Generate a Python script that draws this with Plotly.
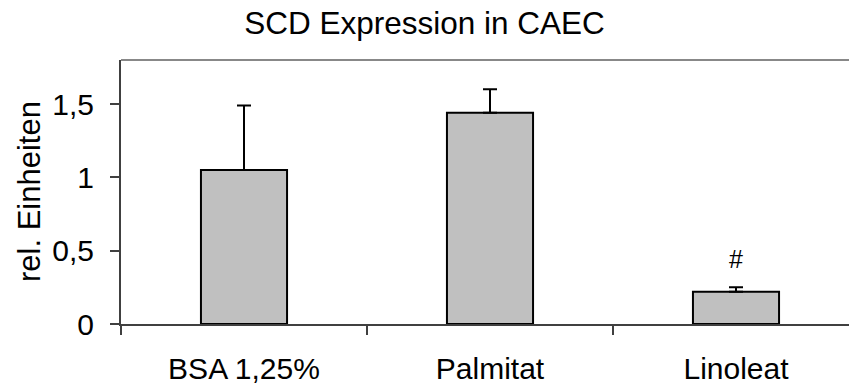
import plotly.graph_objects as go

categories = ["BSA 1,25%", "Palmitat", "Linoleat"]
values = [1.05, 1.44, 0.22]
errors_plus = [0.44, 0.16, 0.03]
markers = ["", "", "#"]
y_ticks = [0, 0.5, 1, 1.5]
y_tick_labels = ["0", "0,5", "1", "1,5"]

FONT = "Arial, Liberation Sans, sans-serif"

fig = go.Figure()
fig.add_trace(go.Bar(
    x=categories,
    y=values,
    width=0.35,
    marker=dict(color="#C0C0C0", line=dict(color="black", width=2)),
    error_y=dict(type="data", symmetric=False, array=errors_plus,
                 arrayminus=[0] * len(values), color="black",
                 thickness=2, width=7),
    showlegend=False,
))

for c, v, e, m in zip(categories, values, errors_plus, markers):
    if m:
        fig.add_annotation(x=c, y=v + e + 0.19, text=m, showarrow=False,
                           font=dict(size=25, color="black", family=FONT),
                           xanchor="center", yanchor="middle")

fig.add_annotation(text="rel. Einheiten", xref="paper", yref="paper",
                   x=(29 - 121) / 728, y=(324 - 192) / 264,
                   textangle=-90, showarrow=False, xanchor="center", yanchor="middle",
                   font=dict(size=31, color="black", family=FONT))

# top frame line
fig.add_shape(type="line", xref="paper", yref="paper", x0=0, x1=1, y0=1, y1=1,
              line=dict(color="#888888", width=2))

fig.update_layout(
    width=849, height=387,
    margin=dict(l=121, r=0, t=60, b=63),
    plot_bgcolor="white", paper_bgcolor="white",
    font=dict(family=FONT, color="black"),
    title=dict(text="SCD Expression in CAEC", x=0.5, xanchor="center",
               y=1 - 23 / 387, yanchor="middle", yref="container",
               font=dict(size=31.5, color="black", family=FONT)),
    xaxis=dict(
        type="category", range=[-0.5, -0.5 + 728 / 246],
        showline=True, linecolor="#404040", linewidth=2,
        ticks="outside", tickson="boundaries", ticklen=9, tickwidth=1.5,
        tickcolor="#404040", tickfont=dict(size=30, color="black", family=FONT),
        ticklabelstandoff=17, showgrid=False, zeroline=False,
    ),
    yaxis=dict(
        range=[0, 1.8], tickvals=y_ticks, ticktext=y_tick_labels,
        showline=True, linecolor="#404040", linewidth=2,
        ticks="outside", ticklen=9, tickwidth=1.5, tickcolor="#404040",
        tickfont=dict(size=30, color="black", family=FONT),
        ticklabelstandoff=10, showgrid=False, zeroline=False,
    ),
    bargap=0.65,
)

fig.write_html("out.html")
